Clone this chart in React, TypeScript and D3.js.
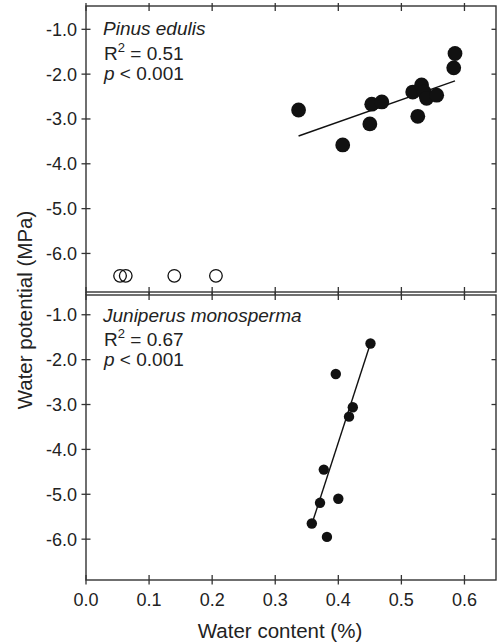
import React from "react";
import * as d3 from "d3";

// Pinus edulis (top panel)
const pinusFilled: [number, number][] = [
  [0.337, -2.8], [0.407, -3.58], [0.45, -3.11], [0.453, -2.67], [0.469, -2.62],
  [0.518, -2.4], [0.532, -2.24], [0.536, -2.4], [0.54, -2.54], [0.556, -2.47],
  [0.526, -2.94], [0.585, -1.54], [0.583, -1.86],
];
const pinusOpen: [number, number][] = [
  [0.054, -6.5], [0.063, -6.5], [0.14, -6.5], [0.206, -6.5],
];
const pinusFit: [number, number][] = [[0.337, -3.38], [0.585, -2.15]];

// Juniperus monosperma (bottom panel)
const juniperus: [number, number][] = [
  [0.451, -1.64], [0.396, -2.32], [0.423, -3.06], [0.417, -3.27], [0.377, -4.45],
  [0.371, -5.19], [0.4, -5.1], [0.358, -5.65], [0.382, -5.95],
];
const juniperusFit: [number, number][] = [[0.36, -5.58], [0.45, -1.68]];

const xTicks = [0, 0.1, 0.2, 0.3, 0.4, 0.5, 0.6];
const yTicks = [-1, -2, -3, -4, -5, -6];

const W = 497;
const H = 644;
const left = 86;
const right = 496;
const axisColor = "#333";
const ink = "#111";
const font = "Arial, 'Liberation Sans', Helvetica, sans-serif";

const x = d3.scaleLinear().domain([0, 0.65]).range([left, right]);
const fmt = (t: number) => t.toFixed(1); // keeps the plain hyphen minus

type PanelProps = {
  top: number;
  bottom: number;
  yDomain: [number, number];
  filled: [number, number][];
  open?: [number, number][];
  fit: [number, number][];
  r: number;
  species: string;
  r2: string;
  textY: [number, number, number];
  showXLabels: boolean;
  bottomTickOut: boolean;
};

function Panel(p: PanelProps) {
  const y = d3.scaleLinear().domain(p.yDomain).range([p.bottom, p.top]);
  const line = d3.line<[number, number]>().x((d) => x(d[0])).y((d) => y(d[1]));
  return (
    <g>
      <rect x={left} y={p.top} width={right - left} height={p.bottom - p.top}
        fill="none" stroke={axisColor} strokeWidth={1.4} />
      {yTicks.map((t) => (
        <g key={"y" + t}>
          <line x1={left - 4.5} x2={left + 4.5} y1={y(t)} y2={y(t)} stroke={axisColor} strokeWidth={1.3} />
          <line x1={right - 4.5} x2={right} y1={y(t)} y2={y(t)} stroke={axisColor} strokeWidth={1.3} />
          <text x={left - 9} y={y(t)} dy="0.36em" textAnchor="end" fontSize={18} fill="#222" fontFamily={font}>
            {fmt(t)}
          </text>
        </g>
      ))}
      {xTicks.map((t) => (
        <g key={"x" + t}>
          <line x1={x(t)} x2={x(t)} y1={p.top - 3} y2={p.top + 5} stroke={axisColor} strokeWidth={1.3} />
          <line x1={x(t)} x2={x(t)} y1={p.bottom - 5} y2={p.bottom + (p.bottomTickOut ? 4.5 : 3)} stroke={axisColor} strokeWidth={1.3} />
          {p.showXLabels && (
            <text x={x(t)} y={p.bottom + 26} textAnchor="middle" fontSize={18} fill="#222" fontFamily={font}>
              {fmt(t)}
            </text>
          )}
        </g>
      ))}
      <path d={line(p.fit) || ""} fill="none" stroke={ink} strokeWidth={1.4} />
      {p.filled.map((d, i) => (
        <circle key={"f" + i} cx={x(d[0])} cy={y(d[1])} r={p.r} fill={ink} />
      ))}
      {(p.open || []).map((d, i) => (
        <circle key={"o" + i} cx={x(d[0])} cy={y(d[1])} r={6.3} fill="none" stroke={ink} strokeWidth={1.3} />
      ))}
      <g fontFamily={font} fill="#222" fontSize={19}>
        <text x={103} y={p.textY[0]} fontStyle="italic">{p.species}</text>
        <text x={104} y={p.textY[1]}>
          R<tspan fontSize={13} dy={-8}>2</tspan>
          <tspan dy={8}> = {p.r2}</tspan>
        </text>
        <text x={104} y={p.textY[2]}>
          <tspan fontStyle="italic">p</tspan> &lt; 0.001
        </text>
      </g>
    </g>
  );
}

export default function App() {
  return (
    <svg width={W} height={H} style={{ position: "absolute", left: 0, top: 0, background: "#fff" }}>
      <Panel top={6} bottom={292} yDomain={[-6.86, -0.48]} filled={pinusFilled} open={pinusOpen}
        fit={pinusFit} r={7.4} species="Pinus edulis" r2="0.51" textY={[35, 59.5, 80]}
        showXLabels={false} bottomTickOut={false} />
      <Panel top={295} bottom={580} yDomain={[-6.91, -0.56]} filled={juniperus}
        fit={juniperusFit} r={5.2} species="Juniperus monosperma" r2="0.67" textY={[322, 345.5, 366]}
        showXLabels={true} bottomTickOut={true} />
      <text x={280} y={638} textAnchor="middle" fontSize={20.5} fill="#222" fontFamily={font}>
        Water content (%)
      </text>
      <text transform="translate(32,310) rotate(-90)" textAnchor="middle" fontSize={20.5} fill="#222" fontFamily={font}>
        Water potential (MPa)
      </text>
    </svg>
  );
}
